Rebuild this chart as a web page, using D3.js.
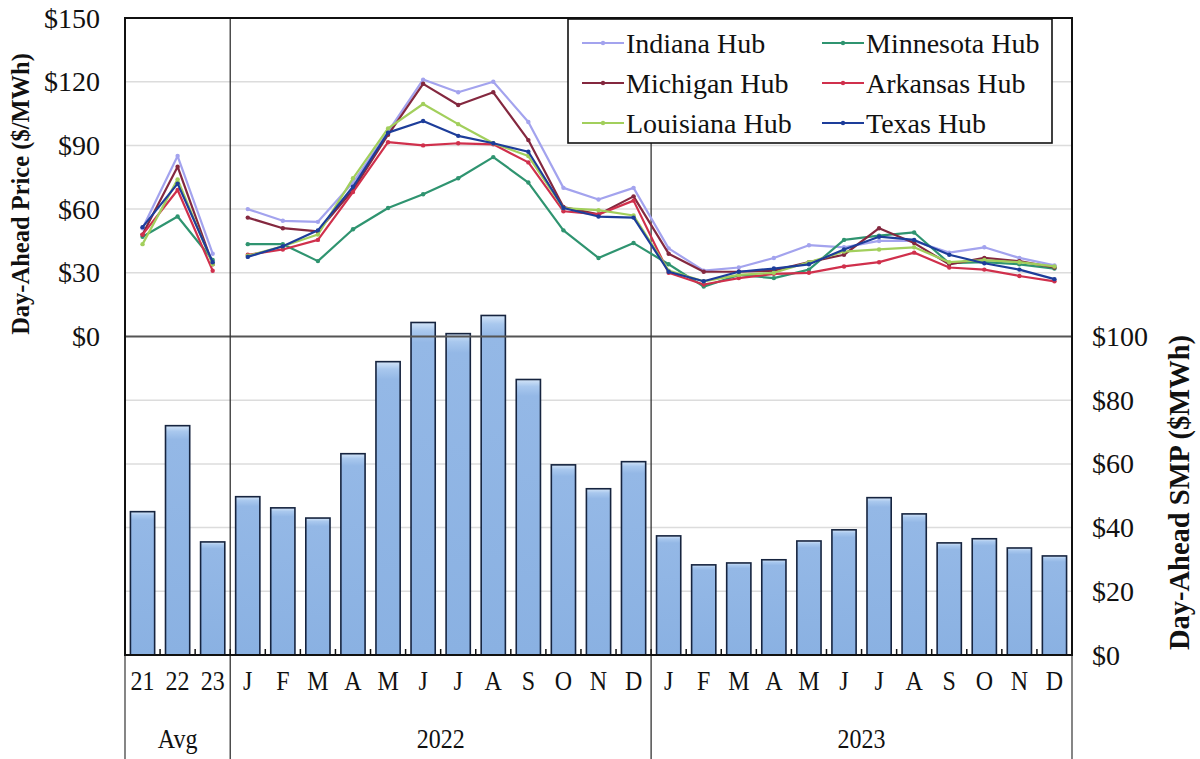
<!DOCTYPE html>
<html>
<head>
<meta charset="utf-8">
<script src="https://cdn.jsdelivr.net/npm/d3@7"></script>
<style>
  html, body { margin: 0; padding: 0; background: #fff; }
  svg { display: block; }
  text { font-family: "Liberation Serif", "Times New Roman", serif; fill: #111; }
</style>
</head>
<body>
<svg id="chart" width="1200" height="759"></svg>
<script>
// ---------- DATA ----------
const categories = ["21","22","23","J","F","M","A","M","J","J","A","S","O","N","D","J","F","M","A","M","J","J","A","S","O","N","D"];
const groups = [
  { label: "Avg",  start: 0,  count: 3 },
  { label: "2022", start: 3,  count: 12 },
  { label: "2023", start: 15, count: 12 }
];
const smpValues = [45, 72, 35.5, 49.7, 46.2, 43, 63.2, 92.1, 104.4, 100.9, 106.6, 86.5, 59.7, 52.2, 60.7, 37.4, 28.3, 28.9, 29.9, 35.8, 39.3, 49.4, 44.3, 35.2, 36.5, 33.6, 31.1];

const seriesNames = ["Indiana Hub", "Minnesota Hub", "Michigan Hub", "Arkansas Hub", "Louisiana Hub", "Texas Hub"];
const indiana   = [51, 85, 39,   60, 54.5, 54, 72.5, 96.5, 121, 115, 120, 101, 70, 64.5, 70,   41.5, 31, 32.5, 37, 43, 42, 45, 45, 39.5, 42, 37, 33.5];
const minnesota = [47, 56.5, 36, 43.5, 43.5, 35.5, 50.5, 60.5, 67, 74.5, 84.5, 72.5, 50, 37, 44, 34, 23.5, 29, 27.5, 31.5, 45.5, 47.5, 49, 34.5, 35, 34, 32];
const michigan  = [48, 80, 34,   56, 51, 49.5, 69, 95, 119, 109, 115, 92.5, 61, 57.5, 66,     39, 30.5, 30.5, 31, 35, 38.5, 51, 44, 34, 37, 35.5, 32.5];
const arkansas  = [48, 69, 31,   38.5, 41, 45.5, 68, 91.5, 90, 91, 90.5, 82, 59, 57.5, 64,    30, 24.5, 27.5, 29.5, 30, 33, 35, 39.5, 32.5, 31.5, 28.5, 26];
const louisiana = [43.5, 74, 34, 38, 42.5, 48, 74.5, 98, 109.5, 100, 91, 85, 60.5, 59.5, 57,  31, 26, 29, 30, 35, 40, 41, 42, 35, 36, 35, 33];
const texas     = [51.5, 72, 35, 37.5, 42.5, 50, 70.5, 96, 101.5, 94.5, 91, 87, 60.5, 56.5, 56, 30.5, 26, 30.5, 32, 34, 41, 47, 45.5, 38.5, 34.5, 31.5, 27];
const seriesValues = [indiana, minnesota, michigan, arkansas, louisiana, texas];
const seriesColors = ["#a3a3ee", "#2f9470", "#84283f", "#d0304c", "#a2cf5c", "#1d3d9a"];

const leftTicks = [0, 30, 60, 90, 120, 150];
const rightTicks = [0, 20, 40, 60, 80, 100];
const leftTitle = "Day-Ahead Price ($/MWh)";
const rightTitle = "Day-Ahead SMP ($MWh)";

// ---------- LAYOUT ----------
const svg = d3.select("#chart");
const L = 125, R = 1072, T = 18, B = 655;

const keys = categories.map((c, i) => i);
const x = d3.scaleBand().domain(keys).range([L, R]).paddingInner(0.31).paddingOuter(0.155);
const step = x.step();
const cx = i => x(i) + x.bandwidth() / 2;
const yL = d3.scaleLinear().domain([-150, 150]).range([B, T]);
const yR = d3.scaleLinear().domain([0, 200]).range([B, T]);

// gradient for bars
const defs = svg.append("defs");
const grad = defs.append("linearGradient").attr("id", "barGrad").attr("x1", 0).attr("y1", 0).attr("x2", 0).attr("y2", 1);
grad.append("stop").attr("offset", "0%").attr("stop-color", "#d4e5f8");
grad.append("stop").attr("offset", "2.5%").attr("stop-color", "#a9c8ee");
grad.append("stop").attr("offset", "6%").attr("stop-color", "#94b8e6");
grad.append("stop").attr("offset", "100%").attr("stop-color", "#8ab1e2");

// gridlines
const grid = svg.append("g");
grid.selectAll("line.gl").data(leftTicks.filter(v => v > 0 && v < 150)).join("line")
  .attr("x1", L).attr("x2", R).attr("y1", d => yL(d)).attr("y2", d => yL(d))
  .attr("stroke", "#dcdcdc").attr("stroke-width", 1.5);
grid.selectAll("line.gr").data(rightTicks.filter(v => v > 0 && v < 100)).join("line")
  .attr("x1", L).attr("x2", R).attr("y1", d => yR(d)).attr("y2", d => yR(d))
  .attr("stroke", "#dcdcdc").attr("stroke-width", 1.5);

// bars
svg.append("g").selectAll("rect").data(smpValues).join("rect")
  .attr("x", (d, i) => x(i))
  .attr("width", x.bandwidth())
  .attr("y", d => yR(d))
  .attr("height", d => yR(0) - yR(d))
  .attr("fill", "url(#barGrad)")
  .attr("stroke", "#16243f").attr("stroke-width", 1.6);

// zero / separator line
svg.append("line").attr("x1", L).attr("x2", R).attr("y1", yL(0)).attr("y2", yL(0))
  .attr("stroke", "#555").attr("stroke-width", 2);

// group dividers (extend into label area)
const dividerX = groups.slice(1).map(g => x(g.start) - step * x.paddingInner() / 2);
svg.append("g").selectAll("line").data(dividerX).join("line")
  .attr("x1", d => d).attr("x2", d => d).attr("y1", T).attr("y2", 759)
  .attr("stroke", "#333").attr("stroke-width", 1.3);
// outer verticals extending down
svg.append("g").selectAll("line").data([L, R]).join("line")
  .attr("x1", d => d).attr("x2", d => d).attr("y1", B).attr("y2", 759)
  .attr("stroke", "#444").attr("stroke-width", 1.3);

// category boundary ticks
const bounds = d3.range(categories.length + 1).map(i => L + i * step);
svg.append("g").selectAll("line").data(bounds).join("line")
  .attr("x1", d => d).attr("x2", d => d).attr("y1", B).attr("y2", B - 6)
  .attr("stroke", "#111").attr("stroke-width", 1.5);

// lines
const line = d3.line().x(d => cx(d.i)).y(d => yL(d.v));
const segs = [[0, 3], [3, 27]];
const linesG = svg.append("g");
seriesValues.forEach((vals, si) => {
  const pts = vals.map((v, i) => ({ i, v }));
  segs.forEach(([a, b]) => {
    linesG.append("path").datum(pts.slice(a, b))
      .attr("d", line).attr("fill", "none")
      .attr("stroke", seriesColors[si]).attr("stroke-width", 2.2)
      .attr("stroke-linejoin", "round");
  });
  linesG.append("g").selectAll("circle").data(pts).join("circle")
    .attr("cx", d => cx(d.i)).attr("cy", d => yL(d.v)).attr("r", 2.2)
    .attr("fill", seriesColors[si]);
});

// frame
svg.append("rect").attr("x", L).attr("y", T).attr("width", R - L).attr("height", B - T)
  .attr("fill", "none").attr("stroke", "#111").attr("stroke-width", 2);

// left axis labels
svg.append("g").selectAll("text").data(leftTicks).join("text")
  .attr("x", 100).attr("y", d => yL(d)).attr("dy", "0.34em")
  .attr("text-anchor", "end").attr("font-size", 28).text(d => "$" + d);
// right axis labels
svg.append("g").selectAll("text").data(rightTicks).join("text")
  .attr("x", 1092).attr("y", d => yR(d)).attr("dy", "0.34em")
  .attr("text-anchor", "start").attr("font-size", 28).text(d => "$" + d);

// axis titles
svg.append("text").attr("transform", `translate(29,${(52 + 336) / 2}) rotate(-90)`)
  .attr("text-anchor", "middle").attr("font-weight", "bold").attr("font-size", 24.5)
  .text(leftTitle);
svg.append("text").attr("transform", `translate(1189,${(330 + 655) / 2}) rotate(-90)`)
  .attr("text-anchor", "middle").attr("font-weight", "bold").attr("font-size", 28.5)
  .text(rightTitle);

// category labels
svg.append("g").selectAll("text").data(categories).join("text")
  .attr("transform", (d, i) => `translate(${cx(i)},690) scale(1,1.12)`)
  .attr("text-anchor", "middle").attr("font-size", 24).text(d => d);
// group labels
svg.append("g").selectAll("text").data(groups).join("text")
  .attr("transform", g => `translate(${(L + g.start * step + L + (g.start + g.count) * step) / 2},748) scale(1,1.12)`)
  .attr("text-anchor", "middle").attr("font-size", 24).text(g => g.label);

// legend
const lg = svg.append("g");
lg.append("rect").attr("x", 568).attr("y", 19).attr("width", 484).attr("height", 124)
  .attr("fill", "#fff").attr("stroke", "#111").attr("stroke-width", 1.6);
const colX = [582, 822];
const rowY = [43, 83, 123];
seriesNames.forEach((name, si) => {
  const cxl = colX[si % 2], ry = rowY[Math.floor(si / 2)];
  lg.append("line").attr("x1", cxl).attr("x2", cxl + 42).attr("y1", ry).attr("y2", ry)
    .attr("stroke", seriesColors[si]).attr("stroke-width", 2.2);
  lg.append("circle").attr("cx", cxl + 21).attr("cy", ry).attr("r", 2.2).attr("fill", seriesColors[si]);
  lg.append("text").attr("x", cxl + 44).attr("y", ry).attr("dy", "0.34em")
    .attr("font-size", 28).text(name);
});
</script>
</body>
</html>
